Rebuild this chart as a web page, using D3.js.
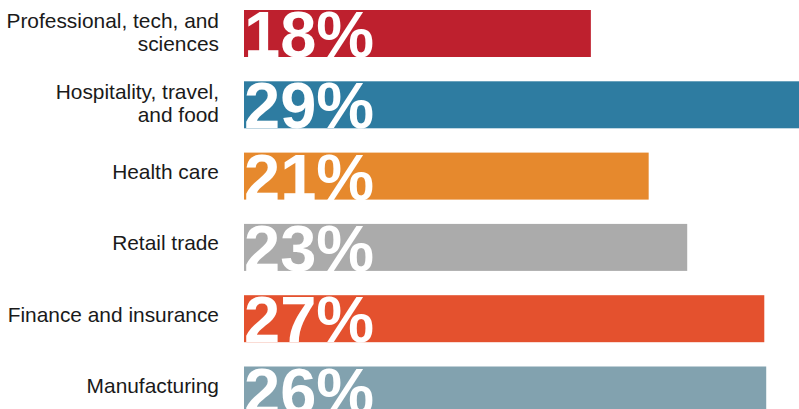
<!DOCTYPE html>
<html>
<head>
<meta charset="utf-8">
<script src="https://cdn.jsdelivr.net/npm/d3@7/dist/d3.min.js"></script>
<style>
  html, body { margin: 0; padding: 0; background: #fff; overflow: hidden; }
  svg { display: block; }
</style>
</head>
<body>
<svg id="chart" width="799" height="409"></svg>
<script>
// ---- data ----
const categories = [
  ["Professional, tech, and", "sciences"],
  ["Hospitality, travel,", "and food"],
  ["Health care"],
  ["Retail trade"],
  ["Finance and insurance"],
  ["Manufacturing"]
];
const barValues = [18, 29, 21, 23, 27, 27.1];
const pctLabels = ["18%", "29%", "21%", "23%", "27%", "26%"];
const colors = ["#be202e", "#2e7ca1", "#e6892d", "#ababab", "#e4512e", "#82a2af"];

// ---- layout ----
const svg = d3.select("#chart");
const ids = categories.map((c, i) => "c" + i);

const x = d3.scaleLinear().domain([0, 30]).range([244, 244 + 30 * 19.27]);
const y = d3.scaleBand().domain(ids).range([10, 413.5]).paddingInner(0.3408).paddingOuter(0);

const rows = ids.map((id, i) => ({
  id, lines: categories[i], value: barValues[i], label: pctLabels[i], color: colors[i]
}));

const g = svg.selectAll("g.row").data(rows).join("g").attr("class", "row");

g.append("rect")
  .attr("x", x(0))
  .attr("y", d => y(d.id))
  .attr("width", d => x(d.value) - x(0))
  .attr("height", y.bandwidth())
  .attr("fill", d => d.color);

g.append("text")
  .attr("x", x(0))
  .attr("y", d => y(d.id) + y.bandwidth())
  .attr("fill", "#fff")
  .attr("font-family", "'Liberation Sans', Arial, Helvetica, sans-serif")
  .attr("font-weight", "bold")
  .attr("font-size", 65)
  .attr("letter-spacing", 0)
  .text(d => d.label);

// category labels
const lab = g.append("text")
  .attr("text-anchor", "end")
  .attr("fill", "#1a1a1a")
  .attr("font-family", "'Liberation Sans', Arial, Helvetica, sans-serif")
  .attr("font-size", 20.9);

lab.selectAll("tspan").data(d => d.lines.map((t, k) => ({
    t, k, n: d.lines.length, c: y(d.id) + y.bandwidth() / 2
  }))).join("tspan")
  .attr("x", 219)
  .attr("y", e => e.n === 1 ? e.c + 3 : e.c - 5.5 + e.k * 23)
  .text(e => e.t);
</script>
</body>
</html>
